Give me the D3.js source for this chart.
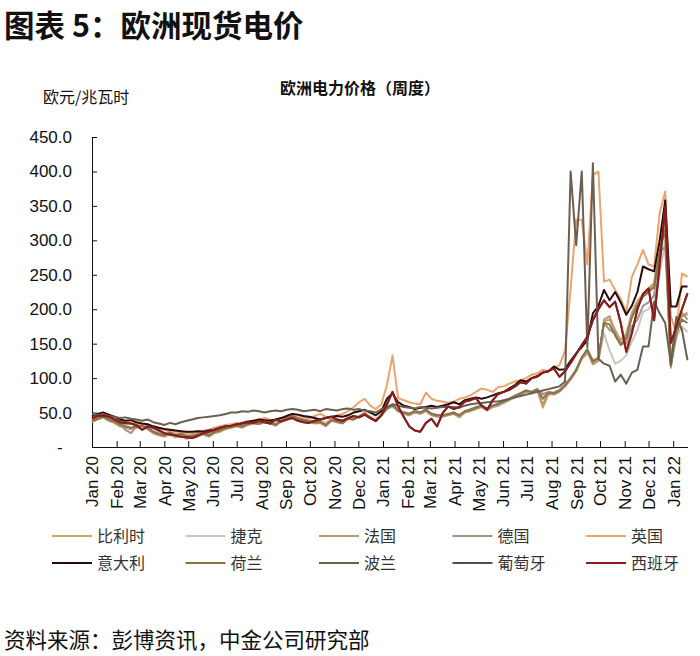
<!DOCTYPE html>
<html><head><meta charset="utf-8">
<script src="https://cdn.jsdelivr.net/npm/d3@7"></script>
<style>body{margin:0;background:#fff} svg{display:block}</style>
</head><body>
<svg id="c" width="700" height="656"></svg>
<script>
// ---- categories ----
const firstWeek = new Date(2020, 0, 1);
const weekCount = 108;
const yTicks = [0, 50, 100, 150, 200, 250, 300, 350, 400, 450];
const seriesNames = ["比利时","捷克","法国","德国","英国","意大利","荷兰","波兰","葡萄牙","西班牙"];

// ---- series values (EUR/MWh, weekly) ----
const belgium = [37,41,44,39,36,32,29,27,29,31,27,21,18,16,20,15,18,14,15,17,19,16,21,23,27,29,31,29,33,35,34,37,35,32,37,42,46,41,39,37,35,36,31,39,37,35,41,40,44,49,42,37,46,
  57,62,53,49,47,51,49,53,47,45,45,47,49,44,51,53,56,59,54,59,61,65,69,73,77,81,79,83,57,76,77,81,89,99,111,129,140,122,127,182,185,170,155,165,195,212,222,230,238,295,330,120,172,190,192];
const czech = [40,43,44,41,39,35,30,26,31,33,30,25,22,20,24,19,21,18,19,20,22,20,24,26,29,31,33,32,35,37,36,39,37,35,40,43,45,43,41,40,38,39,35,41,40,38,43,42,45,47,44,40,48,
  56,58,53,51,49,52,51,54,49,47,46,48,50,47,52,54,57,59,56,60,62,65,69,73,76,80,79,82,78,79,80,83,88,98,110,128,135,128,125,165,140,121,125,133,153,170,196,200,210,250,300,118,160,175,167];
const france = [36,40,43,38,35,30,28,26,28,30,26,20,17,15,18,14,16,12,14,16,18,15,20,22,26,28,30,28,32,34,33,36,34,31,37,41,46,40,38,36,34,35,30,38,36,34,41,40,45,50,43,38,47,
  58,62,52,48,46,50,48,52,46,44,44,46,48,43,50,52,55,58,53,58,60,64,68,72,76,80,78,82,62,78,76,80,88,98,110,128,138,120,125,185,190,167,150,160,190,210,220,228,235,290,320,115,170,190,195];
const germany = [38,42,45,40,38,33,25,20,30,32,28,22,20,18,22,17,20,16,17,19,20,17,22,24,28,30,32,30,34,36,35,38,36,33,38,42,46,42,40,38,36,37,32,40,38,36,42,40,44,48,42,38,46,
  55,60,52,50,48,52,50,55,48,46,45,47,50,45,52,55,58,60,55,60,62,66,70,75,78,82,80,84,76,80,78,82,90,100,112,130,140,125,128,180,170,165,150,150,175,185,205,210,220,284,290,125,160,195,185];
const uk = [40,42,44,42,40,38,36,35,34,32,30,28,26,25,24,22,22,20,20,22,24,25,28,30,32,33,35,34,36,38,40,42,40,38,42,45,48,46,44,42,45,48,44,42,46,48,52,58,65,70,60,55,62,
  90,133,71,68,65,63,62,79,70,67,66,64,66,70,72,75,80,85,83,80,87,88,92,95,97,100,105,107,112,110,114,119,140,230,330,330,265,395,400,240,243,228,215,195,247,265,286,265,262,340,371,190,165,252,247];
const italy = [45,48,50,47,44,40,38,39,36,34,33,30,28,26,25,24,23,22,22,23,22,24,25,27,28,30,32,35,37,38,40,39,38,40,42,45,48,47,45,44,42,40,42,44,45,44,46,50,52,54,50,46,52,
  70,78,65,60,58,55,57,58,60,58,60,62,65,62,68,70,72,70,72,75,78,80,85,90,97,95,100,103,108,110,117,112,113,125,136,145,155,194,205,228,213,225,210,192,205,225,262,258,255,300,358,204,204,233,233];
const netherlands = [38,41,44,40,37,33,30,28,30,31,27,22,19,17,21,16,19,15,16,18,20,17,22,24,28,29,31,30,33,35,34,37,35,32,38,42,45,41,39,37,36,36,32,39,37,35,41,40,44,48,42,38,46,
  56,61,53,50,48,52,50,54,48,46,46,48,50,46,52,54,57,60,56,60,63,66,70,74,78,82,80,84,70,79,78,82,90,100,112,130,142,124,130,180,178,162,148,158,188,205,218,225,232,285,315,118,168,185,180];
const poland = [48,46,48,45,44,42,43,41,40,38,40,36,34,32,35,33,36,38,40,42,43,44,45,46,48,50,50,52,51,53,52,50,52,53,52,54,55,54,52,53,54,52,55,54,53,55,56,54,55,53,52,50,55,
  58,62,60,58,57,56,58,57,56,57,58,58,58,57,60,62,63,64,65,66,66,68,70,72,74,76,78,80,82,84,86,88,95,400,293,400,145,412,128,121,118,95,105,92,108,112,146,146,211,194,180,121,189,170,126];
const portugal = [41,45,45,44,40,36,34,34,31,25,30,28,24,20,18,17,15,14,13,16,20,22,25,28,30,31,33,34,36,35,38,36,34,40,37,40,42,38,36,35,38,40,42,44,40,38,42,45,43,47,42,38,46,
  62,80,59,44,30,24,22,35,41,30,49,59,55,58,66,68,71,60,54,68,77,80,83,88,94,92,100,102,108,110,114,102,110,122,135,148,160,184,200,213,203,211,180,138,165,200,222,230,184,265,349,151,175,200,223];
const spain = [42,45,46,44,40,36,35,34,32,25,30,28,24,20,18,17,15,14,13,16,20,22,25,28,30,31,33,34,36,35,38,36,34,40,37,40,42,38,36,35,38,40,42,44,40,38,42,45,43,47,42,38,46,
  62,80,59,44,30,24,22,35,41,30,49,59,55,58,66,68,71,60,54,68,77,80,83,88,94,92,100,102,108,110,114,102,110,122,135,148,160,184,200,213,203,211,180,138,165,200,222,230,184,265,349,151,175,200,223];

const seriesValues = [belgium, czech, france, germany, uk, italy, netherlands, poland, portugal, spain];
const seriesColors = ["#c9a463","#c9c6bd","#b89b72","#a39584","#eca46d","#2b0c0c","#8c7149","#6b5f52","#594c41","#8e1b1b"];

const dates = d3.range(weekCount).map(i => d3.timeDay.offset(firstWeek, 7 * i));

const svg = d3.select("#c");
const CN = "'Noto Sans CJK SC','Liberation Sans',sans-serif";
const LAT = "'Liberation Sans',Arial,sans-serif";

// title
svg.append("text").attr("x", 4).attr("y", 37).attr("font-family", CN).attr("font-weight", 700)
  .attr("font-size", 30.5).attr("fill", "#111").text("图表 5：欧洲现货电价");
// chart title
svg.append("text").attr("x", 360).attr("y", 94).attr("text-anchor", "middle").attr("font-family", CN)
  .attr("font-weight", 700).attr("font-size", 16).attr("fill", "#111").text("欧洲电力价格（周度）");
// unit label
svg.append("text").attr("x", 43).attr("y", 103).attr("font-family", CN)
  .attr("font-size", 16).attr("fill", "#111").text("欧元/兆瓦时");
// source
svg.append("text").attr("x", 4).attr("y", 648).attr("font-family", CN)
  .attr("font-size", 21.5).attr("fill", "#111").text("资料来源：彭博资讯，中金公司研究部");

const x = d3.scaleTime().domain([firstWeek, dates[dates.length - 1]]).range([92, 687.5]);
const y = d3.scaleLinear().domain([0, 450]).range([447, 137]);

// y axis
const yAxis = d3.axisLeft(y).tickValues(yTicks).tickSizeInner(-5).tickSizeOuter(0)
  .tickPadding(20).tickFormat(d => d === 0 ? "-  " : d.toFixed(1));
const gy = svg.append("g").attr("transform", "translate(92,0)").call(yAxis);
gy.selectAll("text").attr("font-family", LAT).attr("font-size", 17).attr("fill", "#111")
  .attr("xml:space", "preserve").style("white-space", "pre");
gy.selectAll("line,path").attr("stroke", "#111");

// x axis
const monthTicks = d3.timeMonth.range(new Date(2020, 0, 1), new Date(2022, 0, 2));
const xAxis = d3.axisBottom(x).tickValues(monthTicks).tickSizeInner(-6).tickSizeOuter(0)
  .tickFormat(d3.timeFormat("%b %y"));
const gx = svg.append("g").attr("transform", "translate(0,447)").call(xAxis);
gx.selectAll("line,path").attr("stroke", "#111");
gx.selectAll("text").attr("font-family", LAT).attr("font-size", 17).attr("fill", "#111")
  .attr("text-anchor", "end").attr("transform", "rotate(-90)").attr("x", -9).attr("y", 0).attr("dy", "0.35em");

// lines
const line = d3.line().x((d, i) => x(dates[i])).y(d => y(d));
const gl = svg.append("g");
seriesValues.forEach((vals, k) => {
  gl.append("path").datum(vals).attr("d", line).attr("fill", "none")
    .attr("stroke", seriesColors[k]).attr("stroke-width", 2).attr("stroke-linejoin", "round");
});

// legend
const lg = svg.append("g");
seriesNames.forEach((name, k) => {
  const col = k % 5, row = Math.floor(k / 5);
  const lx = 52 + col * 133.5, ly = 536 + row * 27;
  lg.append("line").attr("x1", lx).attr("x2", lx + 40).attr("y1", ly).attr("y2", ly)
    .attr("stroke", seriesColors[k]).attr("stroke-width", 2);
  lg.append("text").attr("x", lx + 45).attr("y", ly).attr("dy", "0.35em").attr("font-family", CN)
    .attr("font-size", 16).attr("fill", "#333").text(name);
});
</script>
</body></html>
